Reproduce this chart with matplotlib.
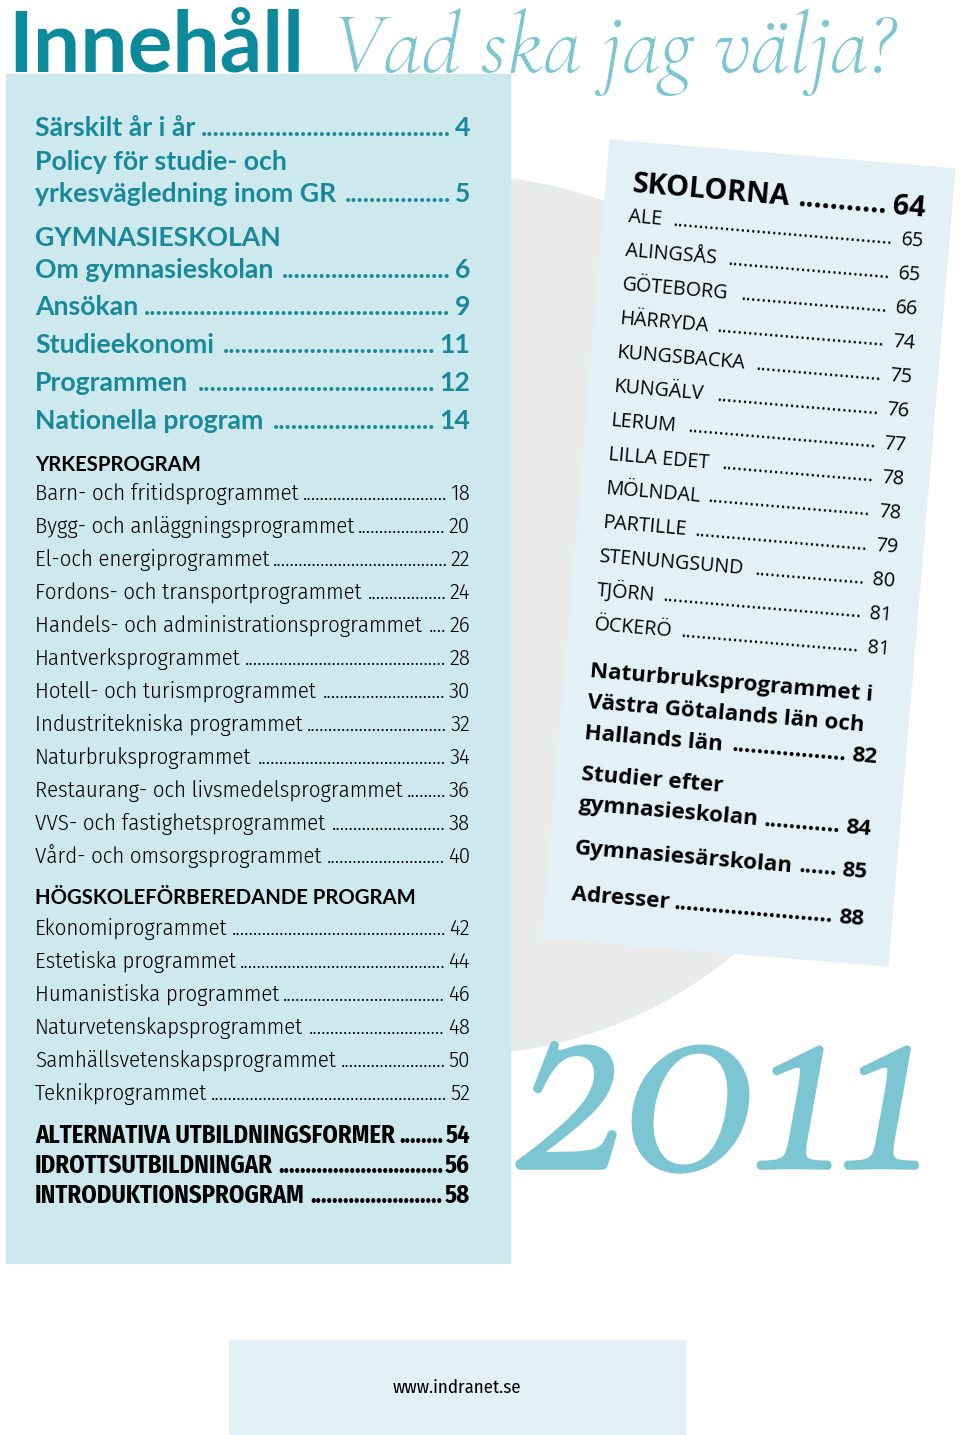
import matplotlib
matplotlib.use("Agg")
import matplotlib.pyplot as plt
from matplotlib.patches import Rectangle, Circle, Polygon
from matplotlib.textpath import TextPath
from matplotlib.font_manager import FontProperties
import matplotlib.patheffects as pe
import numpy as np

# --- innehåll (labels + sidnummer) ---
teal_labels = ["Särskilt år i år", "Policy för studie- och", "yrkesvägledning inom GR", "GYMNASIESKOLAN",
               "Om gymnasieskolan", "Ansökan", "Studieekonomi", "Programmen", "Nationella program"]
teal_pages = ["4", "", "5", "", "6", "9", "11", "12", "14"]

yrke_labels = ["Barn- och fritidsprogrammet", "Bygg- och anläggningsprogrammet", "El-och energiprogrammet",
               "Fordons- och transportprogrammet", "Handels- och administrationsprogrammet", "Hantverksprogrammet",
               "Hotell- och turismprogrammet", "Industritekniska programmet", "Naturbruksprogrammet",
               "Restaurang- och livsmedelsprogrammet", "VVS- och fastighetsprogrammet", "Vård- och omsorgsprogrammet"]
yrke_pages = ["18", "20", "22", "24", "26", "28", "30", "32", "34", "36", "38", "40"]

hog_labels = ["Ekonomiprogrammet", "Estetiska programmet", "Humanistiska programmet",
              "Naturvetenskapsprogrammet", "Samhällsvetenskapsprogrammet", "Teknikprogrammet"]
hog_pages = ["42", "44", "46", "48", "50", "52"]

alt_labels = ["ALTERNATIVA UTBILDNINGSFORMER", "IDROTTSUTBILDNINGAR", "INTRODUKTIONSPROGRAM"]
alt_pages = ["54", "56", "58"]

school_labels = ["ALE", "ALINGSÅS", "GÖTEBORG", "HÄRRYDA", "KUNGSBACKA", "KUNGÄLV", "LERUM", "LILLA EDET",
                 "MÖLNDAL", "PARTILLE", "STENUNGSUND", "TJÖRN", "ÖCKERÖ"]
school_pages = ["65", "65", "66", "74", "75", "76", "77", "78", "78", "79", "80", "81", "81"]

extra_labels = ["Naturbruksprogrammet i", "Västra Götalands län och", "Hallands län", "Studier efter",
                "gymnasieskolan", "Gymnasiesärskolan", "Adresser"]
extra_pages = ["", "", "82", "", "84", "85", "88"]

TEAL = "#17899b"
LIGHT = "#7cc6d3"

fig = plt.figure(figsize=(9.6, 14.35), dpi=100)
ax = fig.add_axes([0, 0, 1, 1])
ax.set_xlim(0, 960)
ax.set_ylim(1435, 0)
ax.axis("off")
rend = fig.canvas.get_renderer()


def fit(s, width_px, **kw):
    # fontsize (pt) so that the ink of s is width_px wide
    fp = FontProperties(**kw)
    w = TextPath((0, 0), s, size=10, prop=fp).get_extents().width
    return 10 * width_px * 72 / (100 * w)


def font(ref, width_px, **kw):
    return dict(kw, fontsize=fit(ref, width_px, **kw))


def text_w(s, **kw):
    t = ax.text(0, 0, s, **kw)
    w = t.get_window_extent(rend).width
    t.remove()
    return w


def left_frame(u, v):
    return u, v


th = np.radians(4.8)


def right_frame(u, v):
    return 610 + u * np.cos(th) - v * np.sin(th), 140 + u * np.sin(th) + v * np.cos(th)


def entry(label, page, v, u0, u1, f, frame=left_frame, rot=0, color="black", gap=4, z=5):
    kw = dict(va="baseline", rotation=rot, rotation_mode="anchor", color=color, zorder=z)
    x, y = frame(u0, v)
    ax.text(x, y, label, ha="left", **kw, **f)
    if not page:
        return
    x, y = frame(u1, v)
    ax.text(x, y, page, ha="right", **kw, **f)
    lw = text_w(label, **f)
    pw = text_w(page, **f)
    dw = text_w("." * 40, **f) / 40
    start = u0 + lw + gap
    end = u1 - pw - gap
    n = int((end - start) // dw)
    x, y = frame(end, v)
    ax.text(x, y, "." * n, ha="right", **kw, **f)


# bakgrund
ax.add_patch(Circle((453, 615), 440, color="#e9eaea", zorder=1))
ax.add_patch(Rectangle((6, 74), 504, 1189, color="#cde9ee", zorder=2))
W, H = 346, 800
corners = [right_frame(0, 0), right_frame(W, 0), right_frame(W, H), right_frame(0, H)]
ax.add_patch(Polygon(corners, closed=True, color="#e3f1f6", zorder=2))
ax.add_patch(Rectangle((229, 1340), 456, 95, color="#e3f1f6", zorder=2))

# rubrik
ax.text(8, 72, "Innehåll", ha="left", va="baseline", color="#0b8a9b", zorder=6,
        **font("Innehåll", 284, family="Lato", weight="bold"))
ax.text(332, 72, "Vad ska jag välja?", ha="left", va="baseline", color=LIGHT, zorder=6,
        **font("Vad ska jag välja?", 558, family="Cormorant Garamond", style="italic"))

# vänster spalt
f_teal = font("Särskilt år i år", 160, family="Lato", weight="bold")
teal_y = [136, 170, 202, 246, 278, 315, 353, 391, 429]
for lab, pg, y in zip(teal_labels, teal_pages, teal_y):
    entry(lab, pg, y, 35, 470, f_teal, color=TEAL)

f_head = font("HÖGSKOLEFÖRBEREDANDE PROGRAM", 377, family="Lato", weight="bold")
f_body = font("Barn- och fritidsprogrammet", 262, family="Fira Sans Condensed", weight=300)
f_alt = font("ALTERNATIVA UTBILDNINGSFORMER", 360, family="Fira Sans Condensed", weight="bold")

ax.text(35, 471, "YRKESPROGRAM", ha="left", va="baseline", zorder=5, **f_head)
for i, (lab, pg) in enumerate(zip(yrke_labels, yrke_pages)):
    entry(lab, pg, 500 + 33 * i, 35, 470, f_body, gap=3)

ax.text(35, 904, "HÖGSKOLEFÖRBEREDANDE PROGRAM", ha="left", va="baseline", zorder=5, **f_head)
for i, (lab, pg) in enumerate(zip(hog_labels, hog_pages)):
    entry(lab, pg, 935 + 33 * i, 35, 470, f_body, gap=3)

for i, (lab, pg) in enumerate(zip(alt_labels, alt_pages)):
    entry(lab, pg, 1143 + 30 * i, 35, 470, f_alt, gap=2)

# höger spalt (lutande)
rot = -4.8
f_sk = font("SKOLORNA", 157, family="Open Sans", weight="bold")
entry("SKOLORNA", "64", 50, 26, 320, f_sk, frame=right_frame, rot=rot, gap=6)

f_city = font("KUNGSBACKA", 127, family="Open Sans", weight="normal")
for i, (lab, pg) in enumerate(zip(school_labels, school_pages)):
    entry(lab, pg, 80.2 + 34.1 * i, 24.5, 321, f_city, frame=right_frame, rot=rot, gap=8)

f_ex = font("Västra Götalands län och", 276, family="Open Sans", weight="bold")
extra_v = [537, 568, 599, 640, 670.5, 714, 761]
for lab, pg, v in zip(extra_labels, extra_pages, extra_v):
    entry(lab, pg, v, 24.5, 318, f_ex, frame=right_frame, rot=rot, gap=5)

# årtal
ax.text(517, 1167, "2011", ha="left", va="baseline", color=LIGHT, zorder=6,
        path_effects=[pe.withStroke(linewidth=4, foreground=LIGHT)],
        **font("2011", 398, family="Cormorant Garamond", style="italic"))

# webbadress
ax.text(457, 1393, "www.indranet.se", ha="center", va="baseline", zorder=5,
        **font("www.indranet.se", 127, family="Fira Sans Condensed", weight="normal"))

fig.savefig("out.png")
